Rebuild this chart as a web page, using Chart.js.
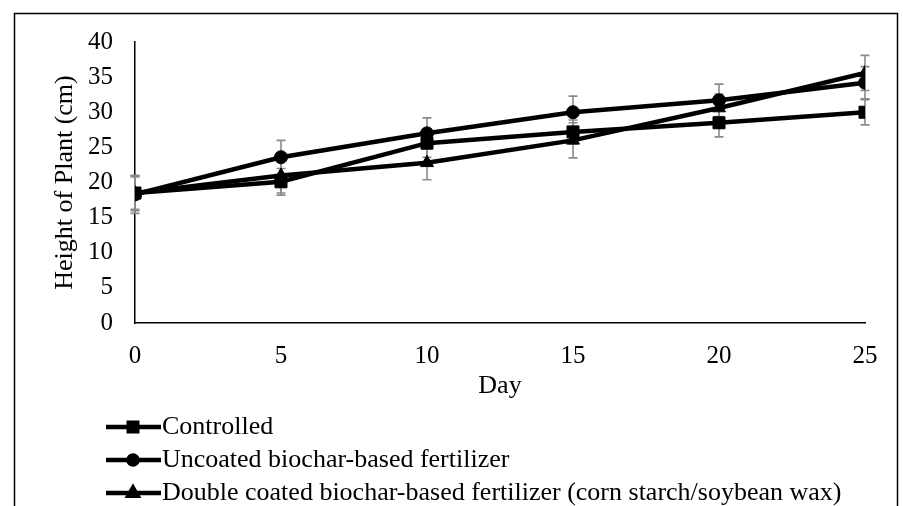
<!DOCTYPE html>
<html>
<head>
<meta charset="utf-8">
<script src="https://cdn.jsdelivr.net/npm/chart.js@4.4.1/dist/chart.umd.min.js"></script>
<style>
  body { margin: 0; background: #fff; }
  #wrap { width: 903px; height: 506px; position: relative; }
</style>
</head>
<body>
<div id="wrap"><canvas id="heightChart"></canvas></div>
<script>
// days of measurement
const days = [0, 5, 10, 15, 20, 25];

// plant heights (cm)
const controlled = [18.5, 20.1, 25.6, 27.2, 28.5, 30.0];
const uncoated = [18.3, 23.6, 27.0, 30.0, 31.7, 34.2];
const doubleCoated = [18.5, 21.0, 22.8, 26.0, 30.6, 35.6];

// error bar half-lengths
const controlledErr = [2.5, 1.9, 2.0, 1.7, 2.0, 1.8];
const uncoatedErr = [2.7, 2.4, 2.2, 2.3, 2.3, 2.3];
const doubleCoatedErr = [2.3, 2.5, 2.4, 2.5, 2.0, 2.5];

const seriesNames = [
    "Controlled",
    "Uncoated biochar-based fertilizer",
    "Double coated biochar-based fertilizer (corn starch/soybean wax)"
];

const yTicks = [0, 5, 10, 15, 20, 25, 30, 35, 40];

const FONT = "'Liberation Serif', 'Times New Roman', serif";

function toPoints(values) {
    return days.map((d, i) => ({ x: d, y: values[i] }));
}

// gray error bars, drawn behind the lines
const errorBars = {
    id: "errorBars",
    beforeDatasetsDraw(chart) {
        const ctx = chart.ctx;
        const xs = chart.scales.x;
        const ys = chart.scales.y;
        ctx.save();
        ctx.strokeStyle = "#8a8a8a";
        ctx.lineWidth = 1.6;
        chart.data.datasets.forEach(ds => {
            ds.data.forEach((p, i) => {
                const e = ds.errors[i];
                const px = xs.getPixelForValue(p.x);
                const top = ys.getPixelForValue(p.y + e);
                const bot = ys.getPixelForValue(p.y - e);
                ctx.beginPath();
                ctx.moveTo(px, top); ctx.lineTo(px, bot);
                ctx.moveTo(px - 4.5, top); ctx.lineTo(px + 4.5, top);
                ctx.moveTo(px - 4.5, bot); ctx.lineTo(px + 4.5, bot);
                ctx.stroke();
            });
        });
        ctx.restore();
    }
};

// legend as a vertical list below the axis, plus the outer frame
const sideLegend = {
    id: "sideLegend",
    afterDraw(chart) {
        const ctx = chart.ctx;
        ctx.save();
        ctx.font = "26px " + FONT;
        ctx.textBaseline = "middle";
        ctx.fillStyle = "#000";
        chart.data.datasets.forEach((ds, i) => {
            const y = 427 + i * 33;
            ctx.strokeStyle = "#000";
            ctx.lineWidth = 4.5;
            ctx.beginPath();
            ctx.moveTo(106, y); ctx.lineTo(161, y);
            ctx.stroke();
            Chart.helpers.drawPoint(ctx, {
                pointStyle: ds.pointStyle,
                radius: ds.pointRadius * 0.7,
                rotation: 0,
                borderWidth: 1
            }, 133, y);
            ctx.fillText(ds.label, 162, y);
        });
        ctx.strokeStyle = "#000";
        ctx.lineWidth = 1.5;
        ctx.strokeRect(14.5, 13.5, 883, 600);
        ctx.restore();
    }
};

function makeSet(label, values, errs, style, radius) {
    return {
        label: label,
        data: toPoints(values),
        errors: errs,
        borderColor: "#000",
        backgroundColor: "#000",
        borderWidth: 4.5,
        pointStyle: style,
        pointRadius: radius,
        pointBackgroundColor: "#000",
        pointBorderColor: "#000",
        pointBorderWidth: 1,
        fill: false,
        tension: 0
    };
}

const ctx = document.getElementById("heightChart").getContext("2d");
const chart = new Chart(ctx, {
    type: "line",
    data: {
        datasets: [
            makeSet(seriesNames[0], controlled, controlledErr, "rect", 8.5),
            makeSet(seriesNames[1], uncoated, uncoatedErr, "circle", 6.5),
            makeSet(seriesNames[2], doubleCoated, doubleCoatedErr, "triangle", 7.5)
        ]
    },
    options: {
        responsive: true,
        maintainAspectRatio: false,
        animation: false,
        layout: { padding: { left: 50, right: 38, top: 42, bottom: 103 } },
        plugins: {
            legend: { display: false },
            tooltip: { enabled: false }
        },
        scales: {
            x: {
                type: "linear",
                min: 0,
                max: 25,
                grid: { display: false, drawTicks: false },
                border: { display: true, color: "#000", width: 1.5 },
                ticks: {
                    stepSize: 5,
                    padding: 18,
                    color: "#000",
                    font: { family: FONT, size: 25 }
                },
                title: {
                    display: true,
                    text: "Day",
                    color: "#000",
                    font: { family: FONT, size: 26 },
                    padding: { top: 0, bottom: 1 }
                },
                afterFit(scale) { scale.height = 80; }
            },
            y: {
                min: 0,
                max: 40,
                grid: { display: false, drawTicks: false },
                border: { display: true, color: "#000", width: 1.5 },
                afterBuildTicks(scale) {
                    scale.ticks = yTicks.map(v => ({ value: v }));
                },
                ticks: {
                    padding: 22,
                    color: "#000",
                    font: { family: FONT, size: 25 }
                },
                title: {
                    display: true,
                    text: "Height of Plant (cm)",
                    color: "#000",
                    font: { family: FONT, size: 26 },
                    padding: { top: 0, bottom: 0 }
                },
                afterFit(scale) { scale.width = 85; }
            }
        }
    },
    plugins: [errorBars, sideLegend]
});
</script>
</body>
</html>
